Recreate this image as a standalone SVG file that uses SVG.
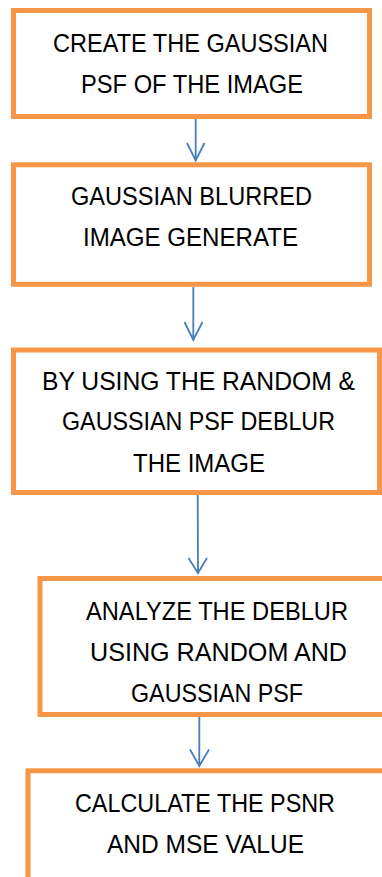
<svg xmlns="http://www.w3.org/2000/svg" width="382" height="877" viewBox="0 0 382 877">
<style>
.box{fill:#FFFFFF;stroke:#F79646;stroke-width:5}
.t{font-family:"Liberation Sans",Arial,sans-serif;font-size:26px;fill:#000000}
.c{stroke:#4A7EBB;stroke-width:1.8;fill:none}
</style>
<rect width="382" height="877" fill="#FFFFFF"/>
<g id="node1">
<rect class="box" x="13.5" y="10.5" width="356" height="106"/>
<text class="t" x="53" y="52" textLength="275" lengthAdjust="spacingAndGlyphs">CREATE THE GAUSSIAN</text>
<text class="t" x="81" y="93" textLength="222" lengthAdjust="spacingAndGlyphs">PSF OF THE IMAGE</text>
</g>
<g id="node2">
<rect class="box" x="13.5" y="164.8" width="356" height="119.5"/>
<text class="t" x="71" y="205" textLength="241" lengthAdjust="spacingAndGlyphs">GAUSSIAN BLURRED</text>
<text class="t" x="83" y="246" textLength="215" lengthAdjust="spacingAndGlyphs">IMAGE GENERATE</text>
</g>
<g id="node3">
<rect class="box" x="13.5" y="350" width="366" height="142.5"/>
<text class="t" x="42" y="389.5" textLength="313" lengthAdjust="spacingAndGlyphs">BY USING THE RANDOM &amp;</text>
<text class="t" x="62" y="430" textLength="273" lengthAdjust="spacingAndGlyphs">GAUSSIAN PSF DEBLUR</text>
<text class="t" x="133" y="471.5" textLength="132" lengthAdjust="spacingAndGlyphs">THE IMAGE</text>
</g>
<g id="node4">
<rect class="box" x="40" y="578.5" width="350" height="136"/>
<text class="t" x="86" y="620" textLength="262" lengthAdjust="spacingAndGlyphs">ANALYZE THE DEBLUR</text>
<text class="t" x="90" y="661" textLength="257" lengthAdjust="spacingAndGlyphs">USING RANDOM AND</text>
<text class="t" x="131" y="702" textLength="172" lengthAdjust="spacingAndGlyphs">GAUSSIAN PSF</text>
</g>
<g id="node5">
<rect class="box" x="28" y="770.8" width="360" height="120"/>
<text class="t" x="75" y="812" textLength="260" lengthAdjust="spacingAndGlyphs">CALCULATE THE PSNR</text>
<text class="t" x="107" y="853" textLength="197" lengthAdjust="spacingAndGlyphs">AND MSE VALUE</text>
</g>
<g id="connectors">
<path class="c" d="M195.7 119 V160.5 M187 143 L195.7 160.5 L204.5 143"/>
<path class="c" d="M193.3 287 V340 M184.5 322 L193.3 340 L202.5 322"/>
<path class="c" d="M197.7 495 L198 573 M188.5 558 L198 573 L207 558"/>
<path class="c" d="M199.3 717 V766 M190 749.5 L199.3 766 L209 749.5"/>
</g>
</svg>
